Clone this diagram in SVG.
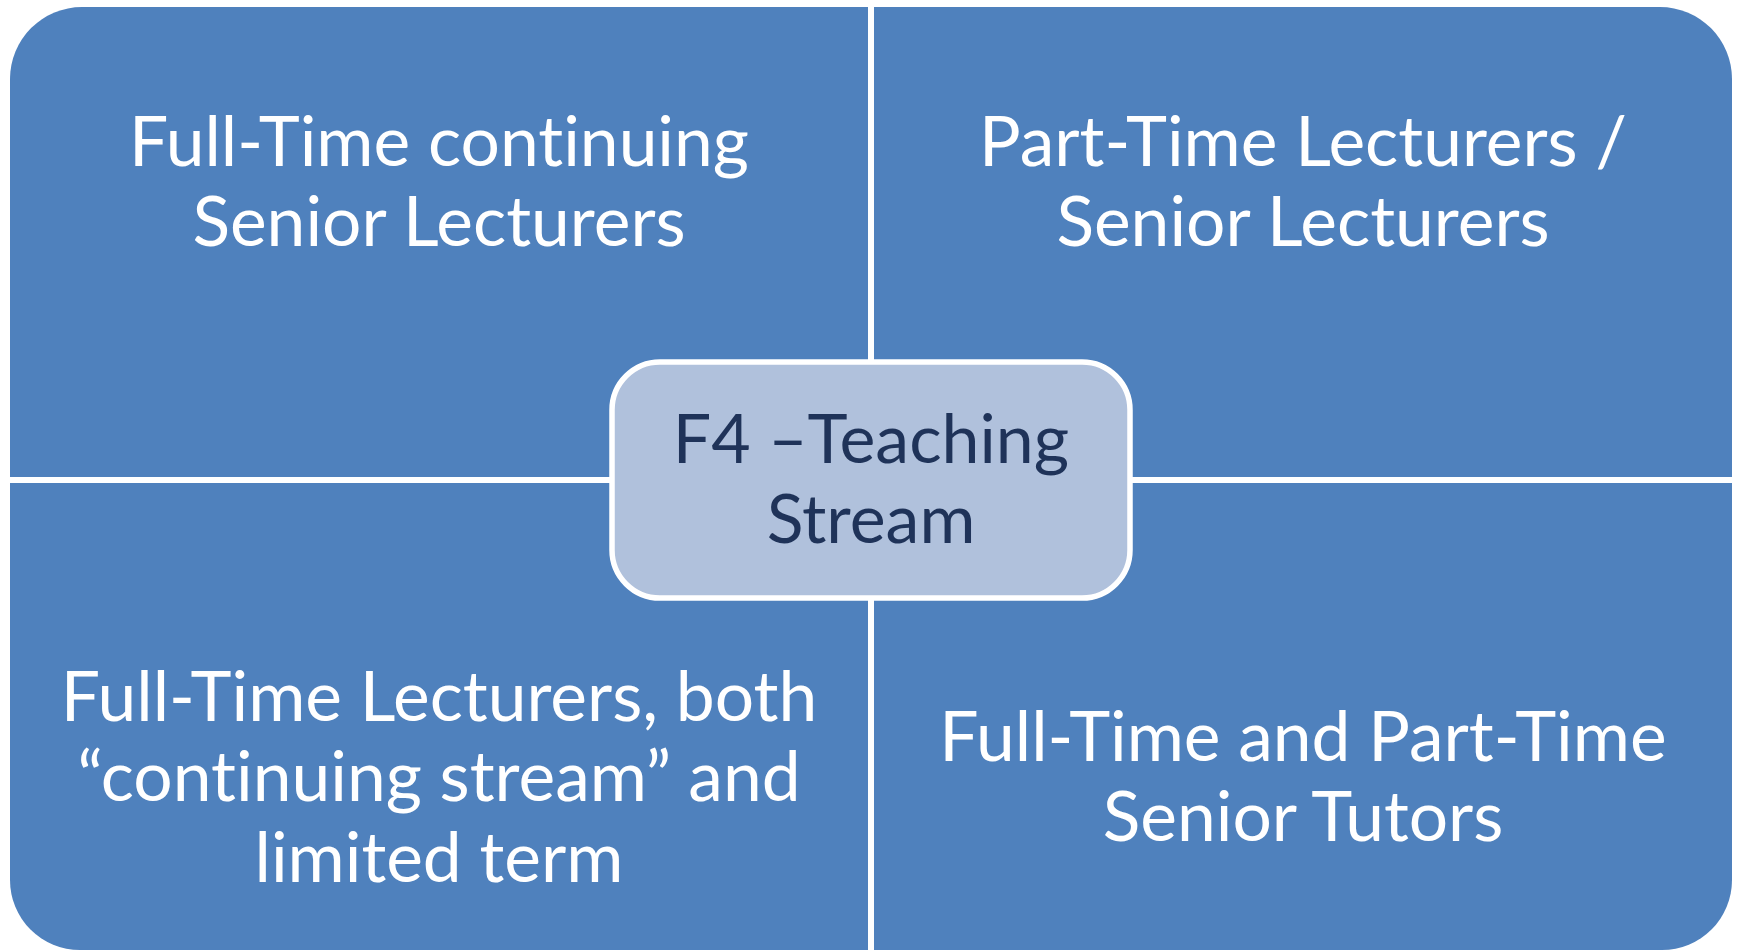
<svg xmlns="http://www.w3.org/2000/svg" width="1739" height="950" viewBox="0 0 1739 950">
<style>
.q{fill:#4F81BD;}
.t{font-family:Lato,"Open Sans","Liberation Sans",sans-serif;font-size:69.5px;fill:#FFFFFF;text-anchor:middle;font-variant-ligatures:none;}
.c{font-family:Lato,"Open Sans","Liberation Sans",sans-serif;font-size:68px;fill:#1F3359;text-anchor:middle;font-variant-ligatures:none;}
</style>
<rect width="1739" height="950" fill="#FFFFFF"/>
<g id="quadrant-tl">
<path class="q" d="M10,79 A72,72 0 0 1 82,7 L868,7 L868,477 L10,477 Z"/>
<text class="t" x="439" y="166">Full-Time continuing</text>
<text class="t" x="439" y="246">Senior Lecturers</text>
</g>
<g id="quadrant-tr">
<path class="q" d="M874,7 L1660,7 A72,72 0 0 1 1732,79 L1732,477 L874,477 Z"/>
<text class="t" x="1303" y="166">Part-Time Lecturers /</text>
<text class="t" x="1303" y="246">Senior Lecturers</text>
</g>
<g id="quadrant-bl">
<path class="q" d="M10,483 L868,483 L868,950 L80,950 A70,70 0 0 1 10,880 Z"/>
<text class="t" x="439" y="721">Full-Time Lecturers, both</text>
<text class="t" x="439" y="801">“continuing stream” and</text>
<text class="t" x="439" y="882">limited term</text>
</g>
<g id="quadrant-br">
<path class="q" d="M874,483 L1732,483 L1732,880 A70,70 0 0 1 1662,950 L874,950 Z"/>
<text class="t" x="1303" y="761">Full-Time and Part-Time</text>
<text class="t" x="1303" y="841">Senior Tutors</text>
</g>
<g id="connectors"></g>
<g id="center">
<rect x="612" y="362" width="518" height="236" rx="48" ry="48" fill="#B0C1DC" stroke="#FFFFFF" stroke-width="5.5"/>
<text class="c" x="871" y="463">F4 –Teaching</text>
<text class="c" x="871" y="543">Stream</text>
</g>
</svg>
